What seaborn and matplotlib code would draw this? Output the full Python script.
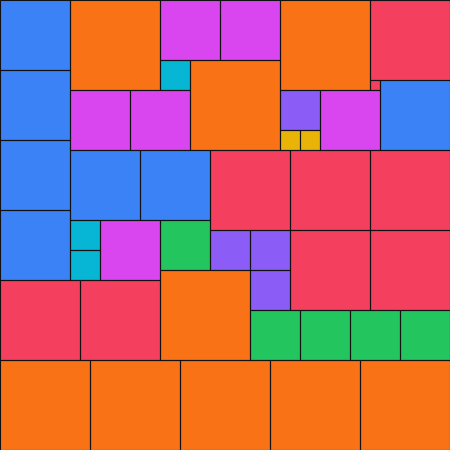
import numpy as np
import matplotlib
matplotlib.use("Agg")
import matplotlib.pyplot as plt
from matplotlib.colors import ListedColormap
from matplotlib.patches import Rectangle
import seaborn as sns

# partridge tiling: square side k appears k times (grid units)
sizes = [9] * 9 + [8] * 8 + [7] * 7 + [6] * 6 + [5] * 5 + [4] * 4 + [3] * 3 + [2] * 2 + [1]
cols = [7, 19, 28, 16, 0, 9, 18, 27, 36,
        37, 21, 29, 37, 29, 37, 0, 8,
        0, 0, 0, 0, 38, 7, 14,
        16, 22, 32, 7, 13, 10,
        16, 25, 30, 35, 40,
        28, 21, 25, 25,
        16, 7, 7,
        28, 30,
        37]
rows = [0, 6, 0, 27, 36, 36, 36, 36, 36,
        0, 15, 15, 15, 23, 23, 28, 28,
        0, 7, 14, 21, 8, 15, 15,
        0, 0, 9, 9, 9, 22,
        22, 31, 31, 31, 31,
        9, 23, 23, 27,
        6, 22, 25,
        13, 13,
        8]

# colore per lato 1..9
palette = ["#F43F5E", "#EAB308", "#06B6D4", "#8B5CF6", "#22C55E",
           "#D946EF", "#3B82F6", "#F43F5E", "#F97316"]

N = 45
grid = np.zeros((N, N))
for s, c, r in zip(sizes, cols, rows):
    grid[r:r + s, c:c + s] = s

sns.set_theme(style="white")
fig = plt.figure(figsize=(4.5, 4.5), dpi=100)
ax = fig.add_axes([0, 0, 1, 1])
sns.heatmap(grid, cmap=ListedColormap(palette), vmin=0.5, vmax=9.5,
            cbar=False, ax=ax, xticklabels=False, yticklabels=False)

# bordi dei quadrati
for s, c, r in zip(sizes, cols, rows):
    ax.add_patch(Rectangle((c, r), s, s, fill=False, edgecolor="#111111", linewidth=0.8))

ax.set_xlim(0, N)
ax.set_ylim(N, 0)
ax.axis("off")
fig.savefig("out.png", dpi=100)
